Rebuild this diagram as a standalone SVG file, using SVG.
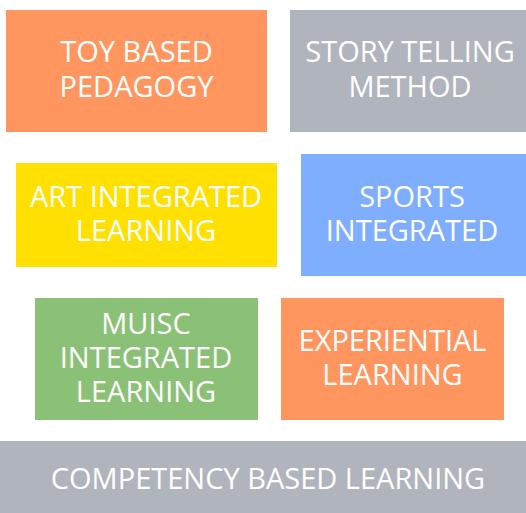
<svg xmlns="http://www.w3.org/2000/svg" width="526" height="513" viewBox="0 0 526 513">
<style>
.t{font-family:"Open Sans","Liberation Sans",sans-serif;font-size:29px;fill:#ffffff;text-anchor:middle}
.o{fill:#FF9660}.g{fill:#B0B4BC}.y{fill:#FFE000}.b{fill:#7FAEFF}.gr{fill:#8BC176}
</style>
<rect width="526" height="513" fill="#ffffff"/>
<g id="toy"><rect class="o" x="6" y="10" width="261" height="122"/><text class="t" x="136.5" y="62">TOY BASED</text><text class="t" x="136.5" y="97">PEDAGOGY</text></g>
<g id="story"><rect class="g" x="290" y="10" width="236" height="122"/><text class="t" x="410" y="62">STORY TELLING</text><text class="t" x="410" y="97">METHOD</text></g>
<g id="art"><rect class="y" x="16" y="163" width="261" height="104"/><text class="t" x="146" y="207">ART INTEGRATED</text><text class="t" x="146" y="241">LEARNING</text></g>
<g id="sports"><rect class="b" x="301" y="154" width="225" height="122"/><text class="t" x="412" y="207">SPORTS</text><text class="t" x="412" y="241">INTEGRATED</text></g>
<g id="music"><rect class="gr" x="35" y="298" width="223" height="122"/><text class="t" x="146" y="334">MUISC</text><text class="t" x="146" y="368">INTEGRATED</text><text class="t" x="146" y="402">LEARNING</text></g>
<g id="exp"><rect class="o" x="281" y="298" width="223" height="122"/><text class="t" x="392.5" y="351">EXPERIENTIAL</text><text class="t" x="392.5" y="385">LEARNING</text></g>
<g id="comp"><rect class="g" x="0" y="441" width="526" height="72"/><text class="t" x="268" y="489">COMPETENCY BASED LEARNING</text></g>
<g id="connectors"/>
</svg>
